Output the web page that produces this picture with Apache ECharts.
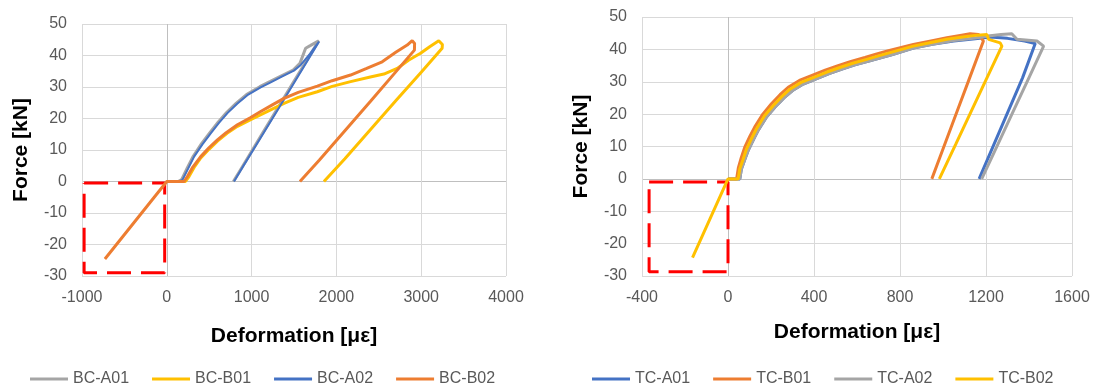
<!DOCTYPE html>
<html>
<head>
<meta charset="utf-8">
<title>Force - deformation</title>
<script src="https://cdn.jsdelivr.net/npm/echarts@6.0.0/dist/echarts.min.js"></script>
<style>
html, body { margin: 0; padding: 0; background: #fff; }
#chart { width: 1094px; height: 385px; }
</style>
</head>
<body>
<div id="chart"></div>
<script>
// left panel (BC), [deformation, force]
var bcA01 = [[0,0],[135,0],[175,0.6],[240,4.2],[312,8],[410,12],[508,15.5],[605,18.8],[705,21.9],[820,24.9],[940,27.6],[1097,30.1],[1215,31.7],[1340,33.4],[1490,35.4],[1570,37.5],[1637,42.3],[1696,43.2],[1792,44.7],[1700,40.6],[1500,31.8],[1300,22.9],[1100,14],[900,5.1],[785,0]];
var bcB01 = [[0,0],[220,0],[260,1.5],[330,4.8],[400,7.5],[500,10.3],[597,12.8],[710,15.3],[833,17.5],[989,19.6],[1200,22.4],[1382,24.8],[1550,26.7],[1775,28.5],[1950,30.2],[2167,31.7],[2400,33.2],[2560,34.1],[2717,35.9],[2850,38.5],[2992,40.7],[3100,42.8],[3207,44.7],[3250,43.5],[3247,42.3],[3000,34.7],[2700,25.6],[2400,16.4],[2100,7.2],[1853,0]];
var bcA02 = [[0,0],[145,0],[185,0.5],[250,4],[322,7.9],[420,11.8],[518,15.3],[615,18.6],[715,21.7],[830,24.7],[950,27.4],[1107,29.9],[1225,31.5],[1350,33.2],[1499,35.2],[1580,37],[1690,40.6],[1795,44.4],[1700,40.2],[1500,31.3],[1300,22.4],[1100,13.6],[900,4.8],[793,0]];
var bcB02 = [[-730,-24.6],[0,0],[204,0],[243,1.6],[300,4.3],[400,7.9],[500,10.8],[597,13.2],[700,15.5],[833,18],[989,20.3],[1107,22.2],[1250,24.4],[1382,26.4],[1550,28.3],[1775,30.3],[1950,32],[2167,33.8],[2350,35.8],[2540,38],[2700,41],[2835,43.3],[2894,44.7],[2922,43.8],[2920,41.7],[2700,34.8],[2400,25.4],[2100,16.1],[1800,6.8],[1570,0]];
var boxBC = [[-975,-0.5],[-25,-0.5],[-25,-29],[-975,-29],[-975,-0.5]];

// right panel (TC)
var tcA01 = [[0,0],[55,0],[62,3],[78,6],[95,9],[120,12.4],[142,15.2],[180,19.2],[220,22.3],[260,25],[300,27.3],[350,29.3],[410,30.9],[470,32.5],[530,33.9],[590,35.2],[655,36.4],[710,37.4],[765,38.4],[862,40.4],[950,41.6],[1050,42.6],[1150,43.3],[1219,43.8],[1300,43.4],[1380,42.6],[1429,41.8],[1435,41.3],[1370,31.2],[1300,20.4],[1230,9.6],[1168,0]];
var tcB01 = [[0,0],[40,0],[48,3.4],[62,6.6],[78,9.8],[102,13.2],[124,16],[162,20],[202,23.2],[242,26],[280,28.3],[332,30.4],[388,31.9],[452,33.6],[512,35],[572,36.3],[637,37.5],[692,38.6],[746,39.6],[862,41.5],[950,42.7],[1018,43.6],[1080,44.3],[1126,44.8],[1165,44.6],[1188,42.6],[1120,30.5],[1060,19.9],[1000,9.2],[948,0]];
var tcA02 = [[0,0],[55,0],[62,3],[78,6],[95,9],[120,12.4],[142,15.2],[180,19.2],[220,22.3],[260,25],[300,27.3],[350,29.3],[410,30.9],[470,32.5],[530,33.9],[590,35.2],[655,36.4],[710,37.4],[765,38.4],[862,40.4],[950,41.6],[1050,42.7],[1150,43.5],[1219,44.2],[1270,44.6],[1320,44.8],[1344,43.1],[1437,42.6],[1468,41],[1400,31.3],[1320,19.9],[1240,8.5],[1180,0]];
var tcB02 = [[-165,-24.3],[0,0],[47,0],[55,3.1],[70,6],[86,9.2],[110,12.5],[132,15.4],[170,19.5],[210,22.6],[250,25.4],[288,27.7],[340,29.8],[396,31.3],[460,33],[520,34.4],[580,35.7],[645,36.9],[700,38],[754,39],[862,41],[950,42.2],[1018,43.1],[1100,43.9],[1160,44.4],[1204,44.6],[1212,43.1],[1266,42],[1274,41],[1200,30.6],[1130,20.7],[1060,10.8],[983,0]];
var boxTC = [[-367,-1],[0,-1],[0,-28.7],[-367,-28.7],[-367,-1]];

var legendBC = ['BC-A01', 'BC-B01', 'BC-A02', 'BC-B02'];
var legendTC = ['TC-A01', 'TC-B01', 'TC-A02', 'TC-B02'];

var FONT = 'Liberation Sans, Arial, sans-serif';
var GRAY = '#A5A5A5', YELLOW = '#FFC000', BLUE = '#4472C4', ORANGE = '#ED7D31';

function gridColors(min, max, step)
{
	var c = [];
	for (var v = min; v <= max; v += step)
		c.push(v === 0 ? '#BFBFBF' : '#D9D9D9');
	return c;
}

function axis(idx, min, max, step, name, gap, margin)
{
	return {
		type: 'value',
		gridIndex: idx,
		min: min,
		max: max,
		interval: step,
		axisLine: { show: false },
		axisTick: { show: false },
		axisLabel: {
			color: '#595959', fontSize: 16, fontFamily: FONT, margin: margin,
			formatter: function (v) { return String(v); }
		},
		splitLine: { lineStyle: { color: gridColors(min, max, step), width: 1 } },
		name: name,
		nameLocation: 'middle',
		nameGap: gap,
		nameTextStyle: { color: '#000', fontSize: 21, fontWeight: 'bold', fontFamily: FONT }
	};
}

function line(name, data, color, width, idx)
{
	return {
		name: name,
		type: 'line',
		xAxisIndex: idx,
		yAxisIndex: idx,
		data: data,
		symbol: 'none',
		lineStyle: { color: color, width: width },
		itemStyle: { color: color }
	};
}

function box(data, idx)
{
	return {
		name: 'box',
		type: 'line',
		xAxisIndex: idx,
		yAxisIndex: idx,
		data: data,
		symbol: 'none',
		silent: true,
		z: 1,
		lineStyle: { color: '#FF0000', width: 3, type: [24, 10] }
	};
}

function legend(names, left)
{
	return {
		data: names,
		left: left,
		top: 366,
		icon: 'rect',
		itemWidth: 38,
		itemHeight: 3,
		itemGap: 23,
		textStyle: { color: '#595959', fontSize: 16, fontFamily: FONT }
	};
}

var chart = echarts.init(document.getElementById('chart'));

chart.setOption({
	animation: false,
	grid: [
		{ left: 82, top: 24, width: 424, height: 252 },
		{ left: 642, top: 17, width: 430, height: 259 }
	],
	xAxis: [
		axis(0, -1000, 4000, 1000, 'Deformation [με]', 50, 14),
		axis(1, -400, 1600, 400, 'Deformation [με]', 46, 14)
	],
	yAxis: [
		axis(0, -30, 50, 10, 'Force [kN]', 50, 15),
		axis(1, -30, 50, 10, 'Force [kN]', 50, 15)
	],
	legend: [legend(legendBC, 25), legend(legendTC, 587)],
	series: [
		box(boxBC, 0),
		line('BC-A01', bcA01, GRAY, 3, 0),
		line('BC-B01', bcB01, YELLOW, 3, 0),
		line('BC-A02', bcA02, BLUE, 2, 0),
		line('BC-B02', bcB02, ORANGE, 3, 0),
		box(boxTC, 1),
		line('TC-A01', tcA01, BLUE, 3, 1),
		line('TC-B01', tcB01, ORANGE, 3, 1),
		line('TC-A02', tcA02, GRAY, 3, 1),
		line('TC-B02', tcB02, YELLOW, 3, 1)
	]
});
</script>
</body>
</html>
